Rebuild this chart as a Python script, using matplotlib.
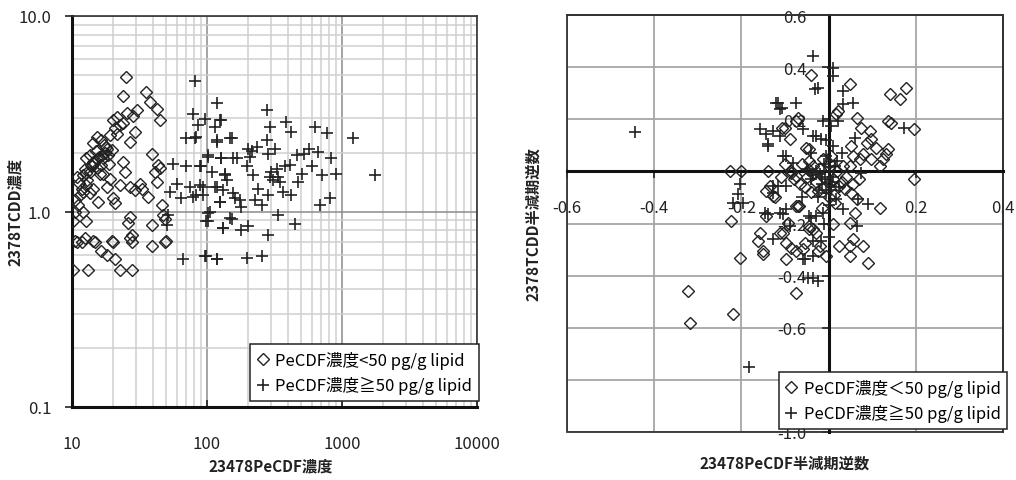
import numpy as np
import matplotlib
matplotlib.use("Agg")
import matplotlib.pyplot as plt
from matplotlib.ticker import FixedLocator, FuncFormatter, LogLocator, NullFormatter
from matplotlib.lines import Line2D

plt.rcParams["font.family"] = ["Noto Sans CJK JP", "DejaVu Sans"]

# --- 左: 濃度 (log-log) ---------------------------------------------
# PeCDF濃度 < 50 pg/g lipid
lo_x = [25, 23.7, 35.3, 37.8, 42.4, 44.9, 30.1, 28.3, 20.1, 21.4, 22.7, 20.8,
        29.3, 26.9, 15.2, 16.3, 14.3, 18.1, 19.7, 18.5, 16.9, 12.8, 14.3, 16.3,
        15.2, 13.6, 12.1, 10.8, 16.9, 19.2, 23.9, 24.7, 22.7, 39.0, 43.6, 44.9,
        41.2, 31.9, 32.8, 29.3, 26.9, 36.8, 42.4, 12.8, 12.1, 11.5, 13.6, 14.3,
        15.6, 18.1, 20.1, 20.8, 11.1, 10.5, 12.1, 10.2, 12.8, 46.2, 47.4, 48.8,
        26.9, 26.1, 39.0, 27.7, 26.9, 19.7, 14.3, 12.5, 10.5, 39.0, 50.0, 16.3,
        18.1, 20.8, 10.2, 13.2, 22.7, 27.7, 17.5, 15.8, 14.0, 13.0, 11.8, 17.2,
        19.0, 21.5, 15.0, 13.5, 12.4, 18.8, 16.0, 11.2, 25.5, 24.0, 10.6, 10.8,
        11.8, 14.8, 20.0, 27.8, 48.8, 13.8, 15.4, 17.8, 12.6, 14.6, 16.6]
lo_y = [4.89, 3.9, 4.1, 3.64, 3.36, 2.95, 3.3, 3.07, 2.93, 3.05, 2.77, 2.66,
        2.56, 2.28, 2.41, 2.32, 2.23, 2.10, 2.06, 1.94, 1.87, 1.87, 1.80, 1.73,
        1.66, 1.60, 1.53, 1.50, 1.56, 1.47, 1.80, 1.60, 1.36, 1.98, 1.73, 1.66,
        1.60, 1.39, 1.31, 1.29, 1.34, 1.19, 1.42, 1.36, 1.26, 1.21, 1.24, 1.31,
        1.12, 1.34, 1.17, 1.10, 1.08, 1.00, 1.00, 0.89, 0.89, 1.08, 0.96, 0.92,
        0.94, 0.87, 0.85, 0.76, 0.73, 0.71, 0.71, 0.73, 0.71, 0.67, 0.71, 0.63,
        0.60, 0.57, 0.50, 0.50, 0.50, 0.50, 2.00, 1.90, 1.70, 1.45, 1.30, 2.20,
        2.45, 2.50, 2.05, 1.95, 1.65, 1.75, 1.55, 1.40, 3.20, 2.85, 1.15, 0.70,
        0.70, 0.70, 0.70, 0.70, 0.70, 1.72, 1.85, 2.15, 1.58, 1.78, 1.95]

# PeCDF濃度 ≧ 50 pg/g lipid
hi_x = [81.5, 118, 79, 96.5, 125, 114, 86, 70.4, 81.5, 152, 118, 102, 128, 156,
        56.3, 70.4, 88.6, 136, 59.6, 74.6, 93.8, 118, 53.2, 64.4, 83.6, 125, 161,
        102, 99, 152, 132, 51.6, 50.2, 66.7, 99, 118, 277, 128, 388, 630, 293,
        422, 770, 1213, 148, 118, 83.6, 277, 233, 202, 319, 565, 666, 520, 462,
        285, 208, 836, 102, 128, 166, 379, 412, 595, 197, 91, 910, 705, 505, 334,
        293, 220, 136, 1754, 473, 347, 88.6, 114, 132, 239, 367, 422, 156, 93.8,
        79, 285, 175, 227, 125, 813, 685, 254, 180, 105, 148, 334, 102, 445, 202,
        132, 180, 285, 96.5, 118, 197, 254, 300, 310, 330, 215, 140, 108]
hi_y = [4.64, 3.57, 3.17, 2.99, 2.93, 2.71, 2.77, 2.38, 2.38, 2.39, 2.32, 1.94,
        1.88, 1.87, 1.76, 1.70, 1.70, 1.56, 1.39, 1.34, 1.34, 1.34, 1.26, 1.17,
        1.21, 1.12, 1.17, 0.98, 0.89, 0.92, 0.82, 0.96, 0.85, 0.57, 0.59, 0.57,
        3.30, 2.93, 2.88, 2.71, 2.71, 2.56, 2.51, 2.39, 2.39, 2.28, 2.41, 2.32,
        2.15, 2.10, 2.10, 2.10, 2.02, 1.98, 1.94, 1.98, 1.91, 1.87, 1.91, 1.87,
        1.87, 1.70, 1.73, 1.70, 1.70, 1.70, 1.56, 1.53, 1.56, 1.50, 1.50, 1.53,
        1.53, 1.53, 1.42, 1.42, 1.36, 1.34, 1.29, 1.31, 1.26, 1.21, 1.24, 1.21,
        1.19, 1.21, 1.15, 1.15, 1.12, 1.17, 1.08, 1.08, 1.06, 1.00, 0.93, 0.96,
        0.89, 0.86, 0.84, 0.82, 0.80, 0.76, 0.59, 0.57, 0.58, 0.59, 1.60, 1.45,
        1.65, 2.05, 1.45, 1.60]

# --- 右: 半減期逆数 -----------------------------------------------------
lo_hx = [-0.04, 0.048, 0.14, 0.163, 0.178, 0.136, 0.144, 0.197, 0.197, 0.117,
         0.021, 0.018, 0.064, 0.075, 0.094, 0.098, 0.087, 0.109, 0.136, 0.132,
         0.125, 0.117, 0.098, 0.079, 0.071, 0.052, 0.056, 0.048, 0.033, 0.025,
         0.037, 0.052, 0.064, 0.06, 0.048, 0.056, 0.048, 0.048, 0.025, 0.079,
         0.09, 0.01, -0.005, -0.02, -0.036, -0.059, -0.067, -0.013, 0.002, -0.044,
         -0.036, -0.227, -0.2, -0.139, -0.223, -0.135, -0.124, -0.143, -0.158,
         -0.162, -0.15, -0.15, -0.204, -0.112, -0.097, -0.086, -0.074, -0.097,
         -0.074, -0.219, -0.323, -0.318, -0.074, -0.089, -0.108, -0.051, -0.086,
         -0.074, -0.074, -0.028, -0.025, -0.055, -0.044, -0.093, -0.105, -0.07,
         -0.101, -0.143, -0.128, -0.07, -0.044, -0.086, -0.05, -0.03, -0.01, 0.01,
         0.02, -0.02, -0.06, -0.04, 0.0, 0.015, -0.015, 0.03, -0.065, -0.045,
         0.005, -0.11, -0.1, 0.04, 0.055, 0.07, -0.035, -0.055, -0.025, 0.0,
         -0.08, -0.045, 0.012]
lo_hy = [0.37, 0.334, 0.295, 0.276, 0.321, 0.193, 0.187, 0.161, -0.031, -0.139,
         0.231, 0.219, 0.206, 0.168, 0.155, 0.123, 0.11, 0.091, 0.084, 0.065,
         0.046, 0.02, 0.046, 0.065, 0.046, 0.097, 0.059, 0.02, 0.02, -0.056,
         -0.069, -0.082, -0.107, -0.159, -0.197, -0.261, -0.287, -0.325, -0.287,
         -0.287, -0.35, -0.203, -0.325, -0.287, -0.223, -0.299, -0.133, 0.046,
         0.033, 0.084, 0.02, 0.0, 0.0, 0.0, -0.19, -0.056, -0.10, -0.17, -0.235,
         -0.267, -0.306, -0.318, -0.331, -0.235, -0.274, -0.293, -0.306, -0.338,
         -0.465, -0.549, -0.459, -0.58, 0.193, 0.123, 0.168, 0.091, -0.005, -0.018,
         -0.133, -0.235, -0.306, -0.274, -0.21, -0.197, -0.235, 0.206, 0.168,
         -0.075, -0.094, -0.133, -0.223, 0.0, -0.02, -0.04, -0.06, -0.03, 0.0,
         0.01, 0.03, -0.08, -0.1, -0.12, -0.14, -0.04, -0.05, 0.04, 0.06, -0.02,
         0.03, -0.02, -0.05, -0.03, -0.01, -0.06, -0.075, -0.045, -0.03, 0.005,
         -0.09]

hi_hx = [-0.445, -0.183, -0.032, -0.12, -0.074, -0.112, -0.158, -0.128, -0.139,
         -0.112, -0.105, -0.059, -0.036, -0.017, -0.204, -0.208, -0.219, -0.196,
         -0.128, -0.116, -0.097, -0.139, -0.105, -0.128, -0.097, -0.089, -0.059,
         -0.036, -0.047, -0.036, -0.025, -0.04, -0.017, -0.036, 0.01, 0.01, -0.036,
         -0.025, 0.033, 0.056, 0.033, -0.013, 0.021, 0.006, 0.174, 0.06, -0.028,
         0.01, -0.04, 0.075, 0.068, 0.09, 0.064, 0.033, 0.018, -0.028, -0.013,
         -0.055, -0.009, 0.006, -0.005, -0.116, -0.108, -0.143, -0.139, -0.097,
         -0.082, -0.128, -0.147, -0.112, -0.044, -0.02, 0.0, 0.01, -0.01, 0.02,
         -0.03, -0.015, 0.005, -0.005, 0.015, -0.04, 0.025, -0.025, 0.0, -0.01,
         0.0, -0.06, -0.05, 0.03, -0.005, -0.015, 0.008, -0.022, -0.035, 0.004]
hi_hy = [0.15, -0.751, 0.315, 0.264, 0.264, 0.238, 0.161, 0.155, 0.097, 0.135,
         0.059, 0.161, 0.135, 0.123, -0.05, -0.088, -0.12, -0.12, -0.082, -0.056,
         -0.056, -0.165, -0.165, -0.261, -0.146, -0.21, -0.338, -0.325, -0.408,
         -0.408, -0.421, -0.178, -0.267, -0.267, 0.398, 0.366, 0.443, 0.321, 0.308,
         0.264, 0.257, 0.193, 0.193, 0.174, 0.168, 0.129, 0.135, 0.097, 0.072,
         -0.005, -0.107, -0.127, -0.21, -0.146, -0.107, -0.171, -0.159, -0.338,
         -0.031, -0.056, -0.082, 0.264, 0.244, 0.142, 0.104, 0.059, 0.033, -0.056,
         -0.159, -0.159, -0.171, -0.01, 0.0, -0.02, 0.03, 0.04, 0.0, -0.05, -0.07,
         0.06, 0.02, -0.03, -0.06, -0.1, -0.13, -0.2, -0.25, -0.1, 0.01, 0.07, 0.12,
         -0.02, -0.04, -0.07, -0.015, 0.015]

lab_lo_l = "PeCDF濃度<50 pg/g lipid"
lab_hi_l = "PeCDF濃度≧50 pg/g lipid"
lab_lo_r = "PeCDF濃度＜50 pg/g lipid"
lab_hi_r = "PeCDF濃度≧50 pg/g lipid"

dia = dict(ls="none", marker="D", ms=6.5, mfc="none", mec="#222222", mew=1.0, zorder=3)
plus = dict(ls="none", marker="+", ms=9, mec="#222222", mew=1.2, zorder=3)
lbl_font = dict(fontsize=11, fontweight="bold", color="#222222")

fig = plt.figure(figsize=(10.16, 4.81), dpi=100)

# ---------------- 左パネル ----------------
ax1 = fig.add_axes([72/1016, 73/481, 405/1016, 391/481])
ax1.set_xscale("log"); ax1.set_yscale("log")
ax1.plot(lo_x, lo_y, **dia)
ax1.plot(hi_x, hi_y, **plus)
ax1.set_xlim(10, 10000); ax1.set_ylim(0.1, 10)
ax1.xaxis.set_major_locator(FixedLocator([10, 100, 1000, 10000]))
ax1.yaxis.set_major_locator(FixedLocator([0.1, 1, 10]))
ax1.xaxis.set_minor_locator(LogLocator(base=10, subs=np.arange(2, 10)))
ax1.yaxis.set_minor_locator(LogLocator(base=10, subs=np.arange(2, 10)))
ax1.xaxis.set_minor_formatter(NullFormatter()); ax1.yaxis.set_minor_formatter(NullFormatter())
ax1.xaxis.set_major_formatter(FuncFormatter(lambda v, p: f"{v:.0f}"))
ax1.yaxis.set_major_formatter(FuncFormatter(lambda v, p: f"{v:.1f}"))
ax1.grid(which="major", color="#8c8c8c", lw=1.1)
ax1.grid(which="minor", color="#cfcfcf", lw=1.1)
ax1.set_axisbelow(True)
ax1.tick_params(which="minor", length=0)
ax1.tick_params(axis="y", which="major", direction="out", length=5, width=1.2, pad=10, labelsize=12, colors="#222222")
ax1.tick_params(axis="x", which="major", direction="in", length=5, width=1.2, pad=20, labelsize=12, colors="#222222")
for s in ["left", "bottom"]:
    ax1.spines[s].set_linewidth(2.2); ax1.spines[s].set_color("#111111")
for s in ["top", "right"]:
    ax1.spines[s].set_linewidth(1.2); ax1.spines[s].set_color("#333333")
ax1.set_xlabel("23478PeCDF濃度", **lbl_font)
ax1.set_ylabel("2378TCDD濃度", **lbl_font)
ax1.xaxis.set_label_coords(0.49, -0.13)
ax1.yaxis.set_label_coords(-0.122, 0.5)
h1 = [Line2D([], [], **{**dia, "ms": 6}), Line2D([], [], **{**plus, "ms": 8})]
leg1 = ax1.legend(h1, [lab_lo_l, lab_hi_l], loc="lower right", bbox_to_anchor=(1.005, 0.015),
                  borderaxespad=0, fancybox=False, edgecolor="#222222", framealpha=1,
                  fontsize=12, handlelength=0.7, handletextpad=0.4, borderpad=0.4,
                  labelspacing=0.45)
leg1.get_frame().set_linewidth(1.1)

# ---------------- 右パネル ----------------
ax2 = fig.add_axes([567/1016, 48/481, 436/1016, 417/481])
ax2.plot(lo_hx, lo_hy, **dia)
ax2.plot(hi_hx, hi_hy, **plus)
ax2.set_xlim(-0.6, 0.4); ax2.set_ylim(-1.0, 0.6)
ax2.xaxis.set_major_locator(FixedLocator(np.round(np.arange(-0.6, 0.41, 0.2), 1)))
ax2.yaxis.set_major_locator(FixedLocator(np.round(np.arange(-1.0, 0.61, 0.2), 1)))
fmt = FuncFormatter(lambda v, p: "" if abs(v) < 1e-9 else f"{v:.1f}")
ax2.xaxis.set_major_formatter(fmt); ax2.yaxis.set_major_formatter(fmt)
ax2.grid(color="#a6a6a6", lw=1.3)
ax2.set_axisbelow(True)
ax2.spines["left"].set_position("zero"); ax2.spines["bottom"].set_position("zero")
for s in ["left", "bottom"]:
    ax2.spines[s].set_linewidth(2.2); ax2.spines[s].set_color("#111111")
for s in ["top", "right"]:
    ax2.spines[s].set_linewidth(1.3); ax2.spines[s].set_color("#333333")
ax2.add_patch(plt.Rectangle((0, 0), 1, 1, transform=ax2.transAxes, fill=False,
                            ec="#333333", lw=1.3, clip_on=False, zorder=2.4))
ax2.tick_params(axis="x", direction="out", length=5, width=1.2, pad=15, labelsize=12, colors="#222222")
ax2.tick_params(axis="y", direction="out", length=5, width=1.2, pad=11, labelsize=12, colors="#222222")
ax2.set_xlabel("23478PeCDF半減期逆数", **lbl_font)
ax2.set_ylabel("2378TCDD半減期逆数", **lbl_font)
ax2.xaxis.set_label_coords(0.5, -0.055)
ax2.yaxis.set_label_coords(-0.06, 0.5)
leg2 = ax2.legend(h1, [lab_lo_r, lab_hi_r], loc="lower right", bbox_to_anchor=(1.01, 0.007),
                  borderaxespad=0, fancybox=False, edgecolor="#222222", framealpha=1,
                  fontsize=12, handlelength=0.7, handletextpad=0.4, borderpad=0.4,
                  labelspacing=0.45)
leg2.get_frame().set_linewidth(1.1)

fig.savefig("out.png", dpi=100)
